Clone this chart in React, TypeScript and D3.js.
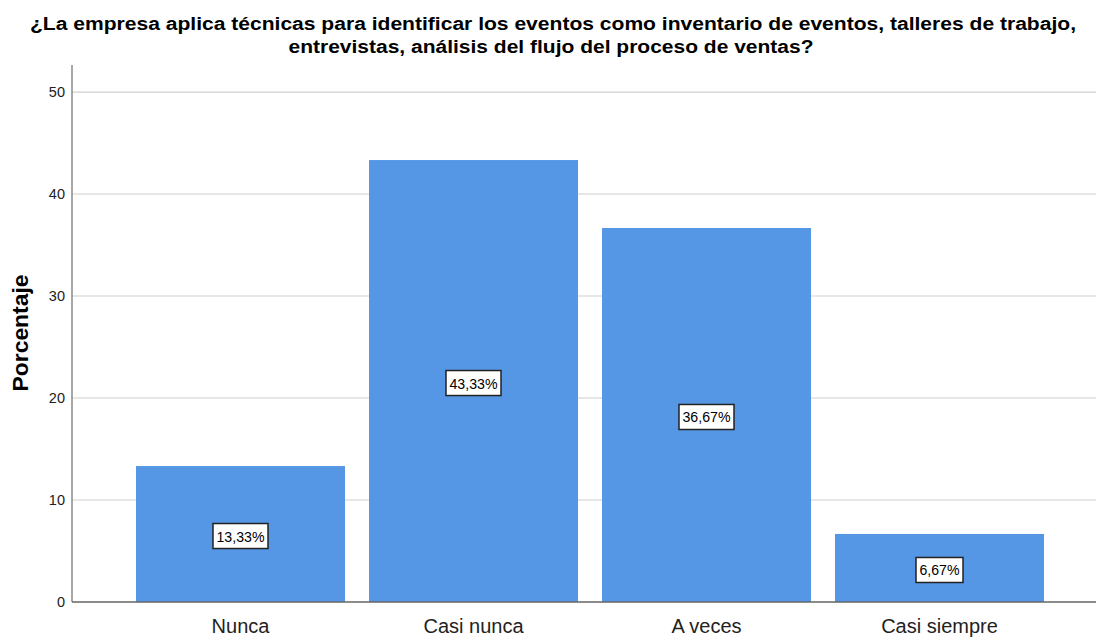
import React from "react";
import * as d3 from "d3";

const categories = ["Nunca", "Casi nunca", "A veces", "Casi siempre"];
const percentages = [13.33, 43.33, 36.67, 6.67];
const valueLabels = ["13,33%", "43,33%", "36,67%", "6,67%"];
const yTicks = [0, 10, 20, 30, 40, 50];
const titleLines = [
  "¿La empresa aplica técnicas para identificar los eventos como inventario de eventos, talleres de trabajo,",
  "entrevistas, análisis del flujo del proceso de ventas?",
];
const yTitle = "Porcentaje";

const W = 1098;
const H = 637;
const FONT = "'Liberation Sans', Arial, sans-serif";

export default function App() {
  const x = d3
    .scaleBand<string>()
    .domain(categories)
    .range([124, 1056])
    .paddingInner(0.103)
    .paddingOuter(0.0515);
  const y = d3.scaleLinear().domain([0, 52.65]).range([602, 65]);
  const plotLeft = 72;
  const plotRight = 1096;

  return (
    <svg
      width={W}
      height={H}
      style={{ position: "absolute", left: 0, top: 0, display: "block", background: "#fff" }}
      fontFamily={FONT}
    >
      {/* Title */}
      <text x={553} y={30} textAnchor="middle" fontSize={18} fontWeight="bold" fill="#000"
        textLength={1046} lengthAdjust="spacingAndGlyphs">
        {titleLines[0]}
      </text>
      <text x={551} y={53} textAnchor="middle" fontSize={18} fontWeight="bold" fill="#000"
        textLength={525} lengthAdjust="spacingAndGlyphs">
        {titleLines[1]}
      </text>

      {/* Gridlines */}
      {yTicks.filter((t) => t > 0).map((t) => (
        <line key={t} x1={plotLeft} x2={plotRight} y1={y(t)} y2={y(t)} stroke="#cfcfcf" strokeWidth={1.2} />
      ))}

      {/* Bars */}
      {categories.map((c, i) => (
        <rect
          key={c}
          x={x(c)}
          y={y(percentages[i])}
          width={x.bandwidth()}
          height={y(0) - y(percentages[i])}
          fill="#5596e5"
        />
      ))}

      {/* Value labels */}
      {categories.map((c, i) => {
        const cx = (x(c) as number) + x.bandwidth() / 2;
        const cy = (y(percentages[i]) + y(0)) / 2 + 2;
        const tl = valueLabels[i].length * 8;
        const bw = tl + 7;
        const bh = 25;
        return (
          <g key={c}>
            <rect x={cx - bw / 2} y={cy - bh / 2} width={bw} height={bh} fill="#fff" stroke="#222" strokeWidth={1.5} />
            <text x={cx} y={cy + 5.5} textAnchor="middle" fontSize={15.5} fill="#000"
              textLength={tl} lengthAdjust="spacingAndGlyphs">
              {valueLabels[i]}
            </text>
          </g>
        );
      })}

      {/* Axes */}
      <line x1={plotLeft} x2={plotLeft} y1={y(52.65)} y2={y(0)} stroke="#8a8a8a" strokeWidth={1.5} />
      <line x1={plotLeft} x2={plotRight} y1={y(0)} y2={y(0)} stroke="#666" strokeWidth={1.5} />

      {/* Y tick labels */}
      {yTicks.map((t) => (
        <text key={t} x={65} y={y(t) + 5} textAnchor="end" fontSize={14.5} fill="#222">
          {t}
        </text>
      ))}

      {/* X category labels */}
      {categories.map((c) => (
        <text key={c} x={(x(c) as number) + x.bandwidth() / 2} y={633} textAnchor="middle" fontSize={20} fill="#222">
          {c}
        </text>
      ))}

      {/* Y axis title */}
      <text transform={`translate(28,333) rotate(-90)`} textAnchor="middle" fontSize={22} fontWeight="bold" fill="#000"
        textLength={117} lengthAdjust="spacingAndGlyphs">
        {yTitle}
      </text>
    </svg>
  );
}
